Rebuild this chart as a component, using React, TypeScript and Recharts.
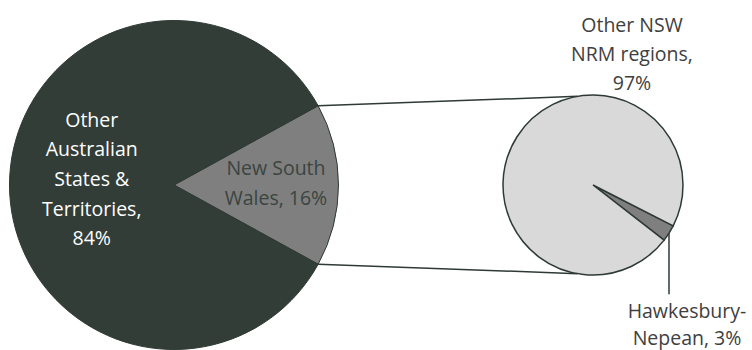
import { PieChart, Pie, Cell, Customized } from 'recharts';

// values
const mainNames = ['New South Wales', 'Other Australian States & Territories'];
const mainValues = [16, 84];
const subNames = ['Hawkesbury-Nepean', 'Other NSW NRM regions'];
const subValues = [3, 97];

const mainData = mainNames.map((name, i) => ({ name, value: mainValues[i] }));
const subData = subNames.map((name, i) => ({ name, value: subValues[i] }));

const W = 752;
const H = 350;
const BIG = { cx: 174, cy: 185, r: 164.5 };
const SMALL = { cx: 593, cy: 185, r: 90 };
const RADIAN = Math.PI / 180;
const FONT = '"Open Sans", sans-serif';
const DARK = '#323D38';
const EDGE = '#2E3A34';
const TEXT = '#404040';

const mainTotal = mainValues.reduce((a, b) => a + b, 0);
// centre the NSW wedge on 3 o'clock
const mainStart = ((mainValues[0] / mainTotal) * 360) / 2;
const subStart = -27;

function MultiText({ x, y, rows, fill, lh = 30 }: { x: number; y: number; rows: string[]; fill: string; lh?: number }) {
  const top = y - ((rows.length - 1) * lh) / 2;
  return (
    <text x={x} y={top} fill={fill} textAnchor="middle" dominantBaseline="central" fontFamily={FONT} fontSize={19.5}>
      {rows.map((r, i) => (
        <tspan key={i} x={x} dy={i === 0 ? 0 : lh}>{r}</tspan>
      ))}
    </text>
  );
}

const mainLabel = (p: any) => {
  const { cx, cy, midAngle, outerRadius, index, value } = p;
  const pct = `${value}%`;
  if (index === 0) {
    const r = outerRadius * 0.62;
    const x = cx + r * Math.cos(-midAngle * RADIAN);
    const y = cy + r * Math.sin(-midAngle * RADIAN);
    return <MultiText x={x} y={y - 3} rows={['New South', `Wales, ${pct}`]} fill="#3A4540" />;
  }
  const r = outerRadius * 0.5;
  const x = cx + r * Math.cos(-midAngle * RADIAN);
  const y = cy + r * Math.sin(-midAngle * RADIAN);
  return <MultiText x={x} y={y - 7} rows={['Other', 'Australian', 'States &', 'Territories,', pct]} fill="#ffffff" lh={29.7} />;
};

const subLabel = (p: any) => {
  const { cx, cy, midAngle, outerRadius, index, value } = p;
  const pct = `${value}%`;
  if (index === 0) {
    const ex = cx + outerRadius * Math.cos(-midAngle * RADIAN);
    const ey = cy + outerRadius * Math.sin(-midAngle * RADIAN);
    return (
      <g>
        <line x1={ex} y1={ey} x2={ex} y2={ey + 61} stroke={EDGE} strokeWidth={1.5} />
        <MultiText x={ex + 18} y={323} rows={['Hawkesbury-', `Nepean, ${pct}`]} fill={TEXT} lh={27} />
      </g>
    );
  }
  return <MultiText x={cx + 39} y={53} rows={['Other NSW', 'NRM regions,', pct]} fill={TEXT} lh={29} />;
};

function Connectors() {
  const a = mainStart * RADIAN;
  const b = 100 * RADIAN;
  const p1 = { x: BIG.cx + BIG.r * Math.cos(a), y: BIG.cy - BIG.r * Math.sin(a) };
  const p2 = { x: BIG.cx + BIG.r * Math.cos(a), y: BIG.cy + BIG.r * Math.sin(a) };
  const q1 = { x: SMALL.cx + SMALL.r * Math.cos(b), y: SMALL.cy - SMALL.r * Math.sin(b) };
  const q2 = { x: SMALL.cx + SMALL.r * Math.cos(b), y: SMALL.cy + SMALL.r * Math.sin(b) };
  return (
    <g>
      <line x1={p1.x} y1={p1.y} x2={q1.x} y2={q1.y} stroke={EDGE} strokeWidth={1.5} />
      <line x1={p2.x} y1={p2.y} x2={q2.x} y2={q2.y} stroke={EDGE} strokeWidth={1.5} />
    </g>
  );
}

export default function App() {
  return (
    <div style={{ position: 'absolute', left: 0, top: 0, width: W, height: H, background: '#fff' }}>
      <PieChart width={W} height={H} margin={{ top: 0, right: 0, bottom: 0, left: 0 }}>
        <Customized component={Connectors} />
        <Pie
          data={mainData}
          dataKey="value"
          cx={BIG.cx}
          cy={BIG.cy}
          outerRadius={BIG.r}
          startAngle={mainStart}
          endAngle={mainStart - 360}
          stroke={EDGE}
          strokeWidth={1}
          label={mainLabel}
          labelLine={false}
          isAnimationActive={false}
        >
          <Cell fill="#7F7F7F" />
          <Cell fill={DARK} />
        </Pie>
        <Pie
          data={subData}
          dataKey="value"
          cx={SMALL.cx}
          cy={SMALL.cy}
          outerRadius={SMALL.r}
          startAngle={subStart}
          endAngle={subStart - 360}
          stroke={EDGE}
          strokeWidth={1.5}
          label={subLabel}
          labelLine={false}
          isAnimationActive={false}
        >
          <Cell fill="#7F7F7F" />
          <Cell fill="#D9D9D9" />
        </Pie>
      </PieChart>
    </div>
  );
}
